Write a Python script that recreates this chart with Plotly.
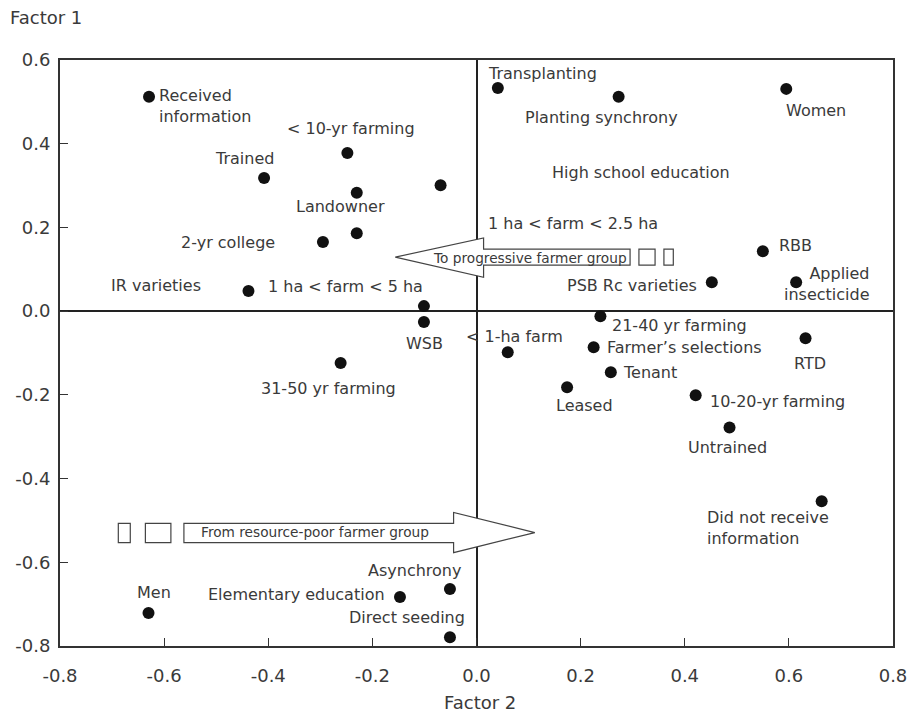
import plotly.graph_objects as go

# Correspondence-analysis scores: Factor 2 (x) vs Factor 1 (y)
names = [
    "Received<br>information", "< 10-yr farming", "Trained", "", "Landowner", "",
    "2-yr college", "1 ha < farm < 5 ha", "", "WSB", "31-50 yr farming",
    "Transplanting", "Planting synchrony", "Women", "RBB", "Applied<br>insecticide",
    "PSB Rc varieties", "21-40 yr farming", "< 1-ha farm", "Farmer\u2019s selections",
    "RTD", "Tenant", "Leased", "10-20-yr farming", "Untrained",
    "Did not receive<br>information", "Men", "Elementary education", "Asynchrony",
    "Direct seeding",
]
factor2 = [
    -0.629, -0.248, -0.408, -0.069, -0.230, -0.230,
    -0.295, -0.438, -0.101, -0.101, -0.261,
    0.041, 0.273, 0.595, 0.550, 0.614,
    0.452, 0.238, 0.060, 0.225,
    0.632, 0.258, 0.174, 0.421, 0.486,
    0.663, -0.630, -0.147, -0.051,
    -0.051,
]
factor1 = [
    0.512, 0.378, 0.318, 0.301, 0.283, 0.186,
    0.165, 0.048, 0.012, -0.026, -0.124,
    0.533, 0.512, 0.531, 0.143, 0.069,
    0.069, -0.012, -0.098, -0.086,
    -0.065, -0.146, -0.182, -0.201, -0.278,
    -0.454, -0.721, -0.683, -0.664,
    -0.779,
]

# label placement relative to each point: (anchor, dx px, dy px)
label_place = [
    ("left", 8, -9), ("center", 4, 24), ("center", -20, 20), ("center", 0, 0),
    ("center", -16, -14), ("center", 0, 0), ("right", -46, 0), ("left", 18, 5),
    ("center", 0, 0), ("center", 1, -21), ("center", -12, -25),
    ("center", 45, 15), ("center", -17, -21), ("center", 30, -22), ("left", 14, 6),
    ("right", 76, -2), ("right", -13, -3), ("left", 10, -9), ("center", 7, 16),
    ("left", 11, 0), ("center", 4, -25), ("left", 10, 0), ("center", 17, -18),
    ("left", 12, -6), ("center", -2, -20), ("left", -117, -27), ("center", 5, 20),
    ("right", -13, 3), ("center", -35, 19), ("center", -43, 20),
]

# category labels without a plotted point
free_labels = ["High school education", "1 ha < farm < 2.5 ha", "IR varieties"]
free_x = [0.316, 0.186, -0.615]
free_y = [0.332, 0.210, 0.062]

x_ticks = [-0.8, -0.6, -0.4, -0.2, 0.0, 0.2, 0.4, 0.6, 0.8]
y_ticks = [-0.8, -0.6, -0.4, -0.2, 0.0, 0.2, 0.4, 0.6]

FONT = "DejaVu Sans, Verdana, sans-serif"
INK = "#3a3a3a"

fig = go.Figure()
fig.add_trace(go.Scatter(
    x=factor2, y=factor1, mode="markers",
    marker=dict(size=12, color="#111111"),
    hoverinfo="text", hovertext=[n.replace("<br>", " ") for n in names],
    showlegend=False,
))

annotations = []
for name, xv, yv, (anc, dx, dy) in zip(names, factor2, factor1, label_place):
    if not name:
        continue
    annotations.append(dict(
        x=xv, y=yv, xref="x", yref="y", text=name, showarrow=False,
        xanchor=anc, yanchor="middle", align=anc,
        xshift=dx, yshift=dy, font=dict(family=FONT, size=16, color=INK),
    ))
for name, xv, yv in zip(free_labels, free_x, free_y):
    annotations.append(dict(
        x=xv, y=yv, xref="x", yref="y", text=name, showarrow=False,
        font=dict(family=FONT, size=16, color=INK),
    ))

# direction arrows with their captions
annotations.append(dict(x=0.103, y=0.127, xref="x", yref="y", text="To progressive farmer group",
                        showarrow=False, font=dict(family=FONT, size=13.7, color=INK)))
annotations.append(dict(x=-0.310, y=-0.528, xref="x", yref="y", text="From resource-poor farmer group",
                        showarrow=False, font=dict(family=FONT, size=13.7, color=INK)))

# axis titles
annotations.append(dict(x=-0.062, y=1.072, xref="paper", yref="paper", text="Factor 1",
                        showarrow=False, xanchor="left", yanchor="middle",
                        font=dict(family=FONT, size=18, color=INK)))
annotations.append(dict(x=0.504, y=-0.096, xref="paper", yref="paper", text="Factor 2",
                        showarrow=False, xanchor="center", yanchor="middle",
                        font=dict(family=FONT, size=18, color=INK)))

arrow_line = dict(color="#444444", width=1.2)
shapes = [
    # left-pointing arrow
    dict(type="path", xref="x", yref="y", layer="above", fillcolor="white", line=arrow_line,
         path="M -0.156,0.129 L 0.0136,0.175 L 0.0136,0.148 L 0.295,0.148 L 0.295,0.110 "
              "L 0.0136,0.110 L 0.0136,0.081 Z"),
    dict(type="rect", xref="x", yref="y", layer="above", fillcolor="white", line=arrow_line,
         x0=0.312, x1=0.343, y0=0.110, y1=0.148),
    dict(type="rect", xref="x", yref="y", layer="above", fillcolor="white", line=arrow_line,
         x0=0.360, x1=0.378, y0=0.110, y1=0.148),
    # right-pointing arrow
    dict(type="path", xref="x", yref="y", layer="above", fillcolor="white", line=arrow_line,
         path="M 0.112,-0.529 L -0.044,-0.481 L -0.044,-0.507 L -0.562,-0.507 L -0.562,-0.553 "
              "L -0.044,-0.553 L -0.044,-0.577 Z"),
    dict(type="rect", xref="x", yref="y", layer="above", fillcolor="white", line=arrow_line,
         x0=-0.636, x1=-0.587, y0=-0.553, y1=-0.507),
    dict(type="rect", xref="x", yref="y", layer="above", fillcolor="white", line=arrow_line,
         x0=-0.688, x1=-0.665, y0=-0.553, y1=-0.507),
]

axis_common = dict(
    showgrid=False, zeroline=True, zerolinecolor="#222222", zerolinewidth=1.6,
    showline=True, linecolor="#333333", linewidth=2, mirror=True,
    ticks="inside", ticklen=8, tickwidth=1.2, tickcolor="#333333",
    tickfont=dict(family=FONT, size=18, color=INK), automargin=False,
)

fig.update_layout(
    width=909, height=723,
    margin=dict(l=60, r=16, t=60, b=77),
    paper_bgcolor="white", plot_bgcolor="white",
    xaxis=dict(range=[-0.8, 0.8], tickvals=x_ticks,
               ticktext=[f"{v:.1f}" for v in x_ticks], ticklabelstandoff=12, **axis_common),
    yaxis=dict(range=[-0.8, 0.6], tickvals=y_ticks,
               ticktext=[f"{v:.1f}" for v in y_ticks], ticklabelstandoff=4, **axis_common),
    annotations=annotations,
    shapes=shapes,
)

fig.write_html("out.html")
